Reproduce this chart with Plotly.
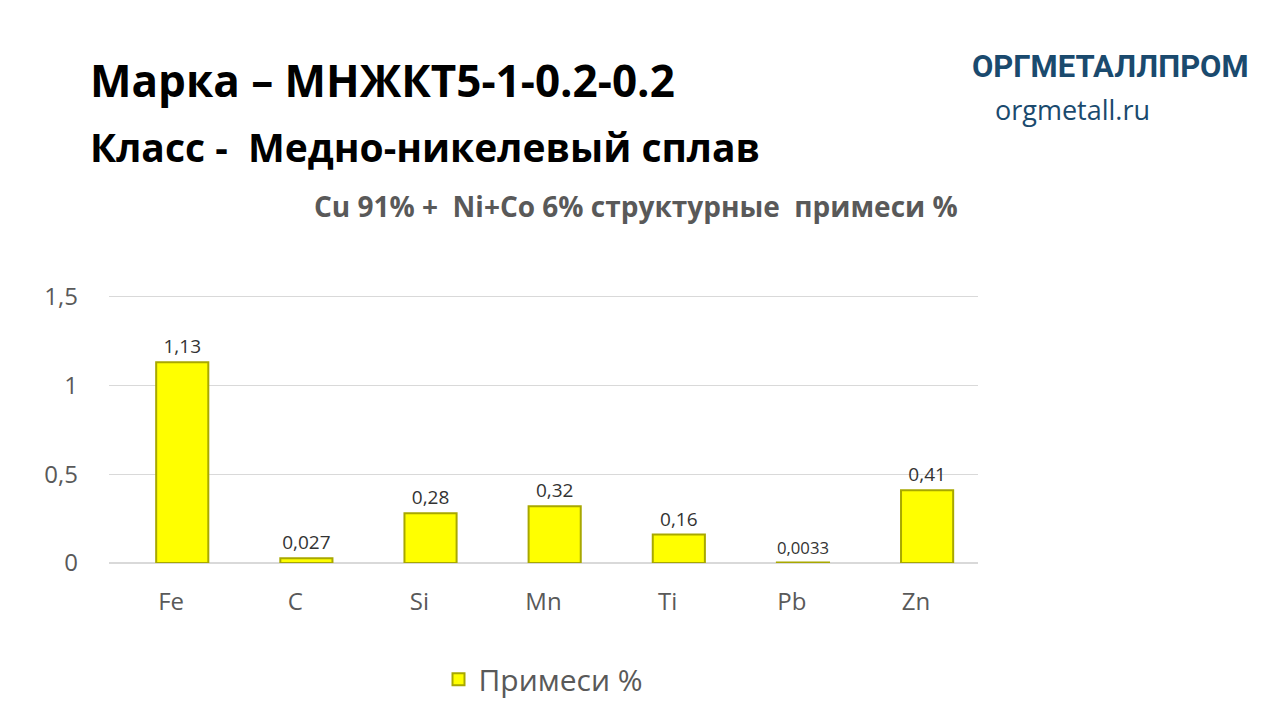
import plotly.graph_objects as go

elements = ["Fe", "C", "Si", "Mn", "Ti", "Pb", "Zn"]
values = [1.13, 0.027, 0.28, 0.32, 0.16, 0.0033, 0.41]
labels = ["1,13", "0,027", "0,28", "0,32", "0,16", "0,0033", "0,41"]
tick_vals = [0, 0.5, 1, 1.5]
tick_text = ["0", "0,5", "1", "1,5"]

L, R, T, B = 101, 310, 244, 165
W, H = 1280, 720

fig = go.Figure()
fig.add_trace(go.Bar(
    x=elements, y=values, name="Примеси %",
    marker=dict(color="#ffff00", line=dict(color="#a8a800", width=2)),
    width=0.42, offset=-0.12,
    text=labels, textposition="outside", cliponaxis=False,
    textfont=dict(size=19, color="#333333", family="Open Sans"),
))

fig.update_layout(
    width=W, height=H,
    paper_bgcolor="white", plot_bgcolor="white",
    margin=dict(l=L, r=R, t=T, b=B),
    font=dict(family="Open Sans", color="#595959"),
    showlegend=True,
    legend=dict(orientation="h", x=0.5, xanchor="center", y=-0.29, yanchor="top",
                font=dict(size=30, color="#595959")),
    xaxis=dict(showgrid=False, showline=False, ticks="", ticklabelstandoff=22,
               tickfont=dict(size=24, color="#595959")),
    yaxis=dict(range=[0, 1.75], tickvals=tick_vals, ticktext=tick_text,
               showgrid=True, gridcolor="#d9d9d9", zeroline=True, zerolinecolor="#d9d9d9",
               ticklabelstandoff=30, tickfont=dict(size=24, color="#595959")),
)

pw, ph = W - L - R, H - T - B
texts = [
    ("<b>Марка – МНЖКТ5-1-0.2-0.2</b>", 80, 72, 44, "black", "left", "Open Sans"),
    ("<b>Класс -  Медно-никелевый сплав</b>", 80, 138, 39, "black", "left", "Open Sans"),
    ("<b>Cu 91% +  Ni+Co 6% структурные  примеси %</b>", 628, 198, 28, "#595959", "center", "Open Sans"),
    ("<b>ОРГМЕТАЛЛПРОМ</b>", 1102, 58, 31, "#1a4a6e", "center", "Roboto"),
    ("orgmetall.ru", 1064, 102, 27, "#1a4a6e", "center", "Open Sans"),
]
anns = []
for txt, x, y, size, color, xa, fam in texts:
    anns.append(dict(text=txt, xref="paper", yref="paper",
                     x=(x - L) / pw, y=(H - B - y) / ph,
                     xanchor=xa, yanchor="middle", showarrow=False,
                     font=dict(size=size, color=color, family=fam)))
fig.update_layout(annotations=anns)

fig.write_html("out.html")
